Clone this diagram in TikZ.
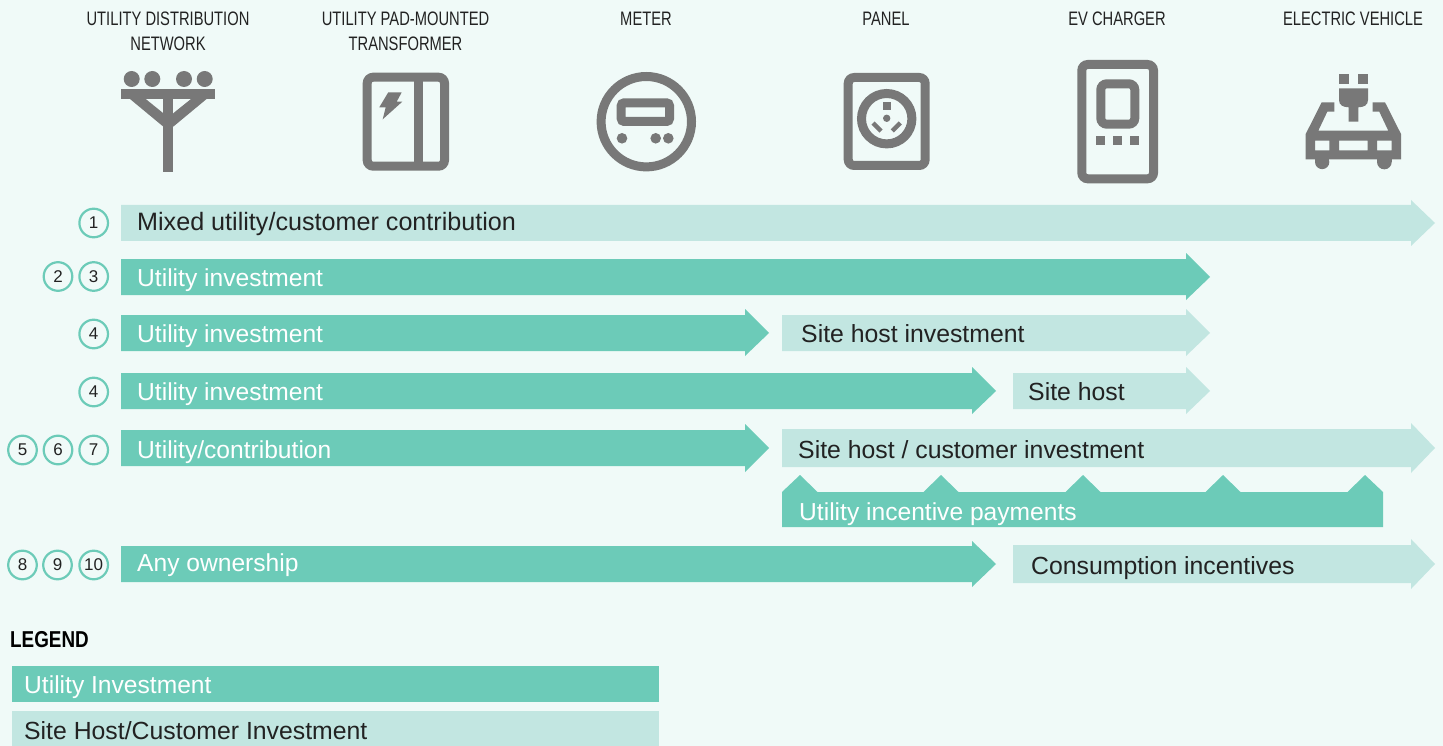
\documentclass[tikz,border=0pt]{standalone}
\usepackage{fontspec}
\setmainfont{Liberation Sans}
\newfontfamily\narrowfont[FakeStretch=0.755]{Liberation Sans}
\newfontfamily\legendfont[FakeStretch=0.82]{Liberation Sans}
\definecolor{bgc}{HTML}{F0FAF8}
\definecolor{util}{HTML}{6CCBB8}
\definecolor{site}{HTML}{C2E6E1}
\definecolor{icon}{HTML}{787878}
\definecolor{ink}{HTML}{222222}
\tikzset{
  hdr/.style={font=\narrowfont\fontsize{19.5}{25}\selectfont,text=ink,align=center,anchor=base,inner sep=0pt},
  lbl/.style={font=\fontsize{24.8}{28}\selectfont,anchor=base west,inner sep=0pt},
  lblu/.style={lbl,font=\fontsize{24.6}{28}\selectfont,text=white},
  lbls/.style={lbl,text=ink},
  num/.style={circle,draw=util,line width=2.2pt,fill=bgc,minimum size=28.6pt,inner sep=0pt,text=ink,font=\fontsize{17}{17}\selectfont},
  ifill/.style={fill=icon,draw=none},
  iline/.style={draw=icon,line width=9pt,fill=none},
  iroundr/.style={iline,rounded corners=6pt},
}
\newcommand{\barrow}[8]{\fill[#8] (#1,#3) -- (#2,#3) -- (#2,#5) -- (#7,{(#3+#4)/2}) -- (#2,#6) -- (#2,#4) -- (#1,#4) -- cycle;}
\begin{document}
\begin{tikzpicture}[x=1pt,y=-1pt]
\useasboundingbox (0,0) rectangle (1443,746);
\fill[bgc] (0,0) rectangle (1443,746);
% headers
\node[hdr] (h1) at (168,26) {UTILITY DISTRIBUTION};
\node[hdr] (h1b) at (168,51) {NETWORK};
\node[hdr] (h2) at (405.5,26) {UTILITY PAD-MOUNTED};
\node[hdr] (h2b) at (405.5,51) {TRANSFORMER};
\node[hdr] (h3) at (646,26) {METER};
\node[hdr] (h4) at (886,26) {PANEL};
\node[hdr] (h5) at (1117,26) {EV CHARGER};
\node[hdr] (h6) at (1353,26) {ELECTRIC VEHICLE};
% pole icon
\foreach \x in {131.7,152.3,184,204.7} \fill[icon] (\x,79) circle (8);
\fill[ifill] (121.3,89) rectangle (215.3,99.3);
\fill[ifill] (163.3,99) rectangle (173.3,172.3);
\fill[ifill] (130,99) -- (163.4,126.7) -- (163.4,113.3) -- (145.7,99) -- cycle;
\fill[ifill] (206.6,99) -- (173.2,126.7) -- (173.2,113.3) -- (191,99) -- cycle;
% transformer icon
\draw[iroundr] (367.2,77.2) rectangle (444.5,166.2);
\fill[ifill] (414.3,75) rectangle (423.3,168);
\fill[ifill] (388.3,92.3) -- (401.7,92.3) -- (396.7,101.7) -- (402.3,101.7) -- (382.7,119.3) -- (385.7,107.3) -- (379.3,107.3) -- cycle;
% meter icon
\draw[iline] (646.3,121.7) circle (45.2);
\draw[iroundr,rounded corners=3pt] (621.2,102.8) rectangle (669.5,121.5);
\foreach \x in {622,655.7,668.3} \fill[icon] (\x,138.3) circle (5.3);
% panel icon
\draw[iroundr] (848.2,77.5) rectangle (925.2,165.5);
\draw[iline] (886.7,118.7) circle (25.2);
\fill[ifill] (883,102) rectangle (891,110);
\fill[icon] (886.7,118.3) circle (3.7);
\draw[icon,line width=4.5pt] (873,123) -- (881,131);
\draw[icon,line width=4.5pt] (900.3,123) -- (892.3,131);
% charger icon
\draw[iroundr] (1081.8,64.5) rectangle (1153.5,178.8);
\draw[iroundr] (1100.8,83.8) rectangle (1134.8,124.2);
\foreach \x in {1096.3,1113,1130} \fill[ifill] (\x,136) rectangle ++(9,8.7);
% vehicle icon
\fill[ifill] (1339,74) rectangle (1349,83.7);
\fill[ifill] (1358,74) rectangle (1368,83.7);
\fill[ifill] (1339,88.3) -- (1368,88.3) -- (1368,100) .. controls (1368,105) and (1364,107.3) .. (1358.3,107.3) -- (1358.3,121.7) -- (1348.7,121.7) -- (1348.7,107.3) .. controls (1343,107.3) and (1339,105) .. (1339,100) -- cycle;
\fill[ifill,even odd rule] (1321.7,102.3) -- (1334.3,102.3) -- (1334.3,111.7) -- (1327.3,111.7) -- (1318.3,130.7) -- (1388.3,130.7) -- (1379.3,111.7) -- (1372.7,111.7) -- (1372.7,102.3) -- (1385,102.3) -- (1401,134) -- (1401,159.3) -- (1305.7,159.3) -- (1305.7,134) -- cycle
 (1315,140.7) rectangle (1329.3,150.3)
 (1339,140.7) rectangle (1367.7,150.3)
 (1377,140.7) rectangle (1391.7,150.3);
\fill[ifill] (1315,159) rectangle (1329.3,162);
\fill[icon] (1322.15,162) circle (7.15);
\fill[ifill] (1377,159) rectangle (1391.7,162);
\fill[icon] (1384.35,162) circle (7.35);
% bars
\barrow{121}{1411}{205}{241}{200}{246}{1435}{site}
\barrow{121}{1186}{259}{295}{253}{300}{1210}{util}
\barrow{121}{745}{315}{351}{309}{356}{769}{util}
\barrow{782}{1186}{315}{351}{309}{356}{1210}{site}
\barrow{121}{972}{373}{409}{367}{414}{996}{util}
\barrow{1013}{1186}{373}{409}{367}{414}{1210}{site}
\barrow{121}{745}{430}{466}{424}{472}{769}{util}
\barrow{782}{1411}{429}{467}{423}{473}{1435}{site}
\barrow{121}{972}{546}{582}{541}{587}{996}{util}
\barrow{1013}{1411}{545}{583}{539}{589}{1435}{site}
\fill[util] (782,527) -- (782,492) -- (800,475) -- (817.5,492) -- (923.5,492) -- (941,475) -- (958.5,492) -- (1065.5,492) -- (1083,475) -- (1100.5,492) -- (1205.5,492) -- (1223,475) -- (1240.5,492) -- (1347.5,492) -- (1365,475) -- (1383,492) -- (1383,527) -- cycle;
% labels
\node[lbls,font=\fontsize{25.15}{28}\selectfont] (l1) at (137,231) {Mixed utility/customer contribution};
\node[lblu] (l2) at (137,286) {Utility investment};
\node[lblu] (l3) at (137,342) {Utility investment};
\node[lbls] (l3b) at (801,342) {Site host investment};
\node[lblu] (l4) at (137,400) {Utility investment};
\node[lbls] (l4b) at (1028,400) {Site host};
\node[lblu] (l5) at (137,458) {Utility/contribution};
\node[lbls] (l5b) at (798,458) {Site host / customer investment};
\node[lblu] (l5c) at (799,520) {Utility incentive payments};
\node[lblu] (l6) at (137,571) {Any ownership};
\node[lbls] (l6b) at (1031,574) {Consumption incentives};
% numbers
\node[num] (n1) at (93.7,223) {1};
\node[num] (n2) at (58,276.5) {2};
\node[num] (n3) at (93.7,276.5) {3};
\node[num] (n4a) at (93.7,334) {4};
\node[num] (n4b) at (93.7,392) {4};
\node[num] (n5) at (22.5,450) {5};
\node[num] (n6) at (58,450) {6};
\node[num] (n7) at (93.7,450) {7};
\node[num] (n8) at (22.5,565) {8};
\node[num] (n9) at (57.5,565) {9};
\node[num] (n10) at (93.7,565) {10};
% legend
\node[font=\legendfont\bfseries\fontsize{23}{25}\selectfont,anchor=base west,inner sep=0pt,text=black] (leg) at (10,647) {LEGEND};
\fill[util] (12,666) rectangle (659,702);
\fill[site] (12,711) rectangle (659,746);
\node[lblu] (lg1) at (24,693) {Utility Investment};
\node[lbls] (lg2) at (24,739) {Site Host/Customer Investment};
\end{tikzpicture}
\end{document}
